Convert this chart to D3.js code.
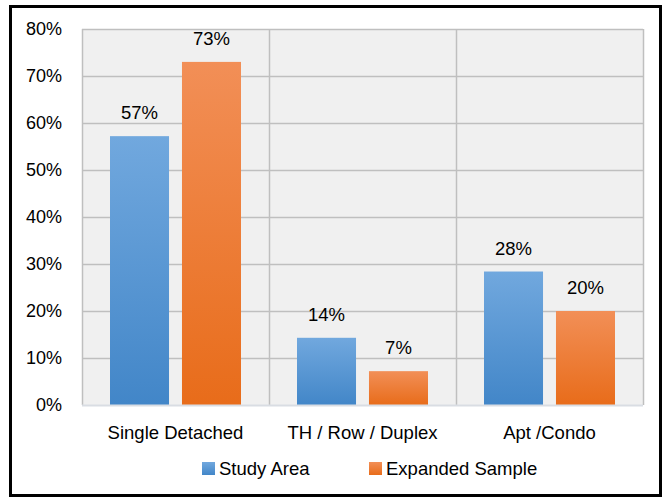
<!DOCTYPE html>
<html>
  <head>
    <style>
      body {
        margin: 0;
        background: #fff;
        font-family: "Liberation Sans", sans-serif;
      }
      svg text {
        font-family: "Liberation Sans", sans-serif;
        fill: #000;
      }
    </style>
    <script src="https://d3js.org/d3.v7.min.js"></script>
  </head>
  <body>
    <script>
      const width = 670;
      const height = 498;

      // chart data
      const categories = ["Single Detached", "TH / Row / Duplex", "Apt /Condo"];
      const seriesNames = ["Study Area", "Expanded Sample"];
      const studyArea = [57.2, 14.3, 28.4];
      const expandedSample = [73, 7.2, 20];
      const yTicks = [0, 10, 20, 30, 40, 50, 60, 70, 80];

      const plotLeft = 82;
      const plotRight = 643;
      const plotTop = 29;
      const plotBottom = 405;

      const svg = d3
        .select("body")
        .append("svg")
        .attr("width", width)
        .attr("height", height);

      // gradients for the bars
      const defs = svg.append("defs");
      const grads = [
        { id: "gBlue", c1: "#71a8de", c2: "#4286c8" },
        { id: "gOrange", c1: "#f28f57", c2: "#e86c1a" }
      ];
      grads.forEach((g) => {
        const lg = defs
          .append("linearGradient")
          .attr("id", g.id)
          .attr("x1", 0)
          .attr("y1", 0)
          .attr("x2", 0)
          .attr("y2", 1);
        lg.append("stop").attr("offset", "0%").attr("stop-color", g.c1);
        lg.append("stop").attr("offset", "100%").attr("stop-color", g.c2);
      });

      // outer frame
      svg
        .append("rect")
        .attr("x", 10.5)
        .attr("y", 6.5)
        .attr("width", 650)
        .attr("height", 489)
        .attr("fill", "#fff")
        .attr("stroke", "#000")
        .attr("stroke-width", 3);

      const x0 = d3.scaleBand().domain(categories).range([plotLeft, plotRight]);
      const x1 = d3
        .scaleBand()
        .domain(seriesNames)
        .range([28, x0.bandwidth() - 28])
        .paddingInner(0.18);
      const y = d3.scaleLinear().domain([0, 80]).range([plotBottom, plotTop]);

      // plot background
      svg
        .append("rect")
        .attr("x", plotLeft)
        .attr("y", plotTop)
        .attr("width", plotRight - plotLeft)
        .attr("height", plotBottom - plotTop)
        .attr("fill", "#f0f0f0");

      // horizontal grid
      svg
        .append("g")
        .selectAll("line")
        .data(yTicks.filter((d) => d > 0))
        .enter()
        .append("line")
        .attr("x1", plotLeft)
        .attr("x2", plotRight)
        .attr("y1", (d) => Math.round(y(d)) + 0.5)
        .attr("y2", (d) => Math.round(y(d)) + 0.5)
        .attr("stroke", "#bfbfbf")
        .attr("stroke-width", 1.5);

      // vertical dividers
      const dividers = categories.map((c) => x0(c)).concat([plotRight]);
      svg
        .append("g")
        .selectAll("line")
        .data(dividers)
        .enter()
        .append("line")
        .attr("x1", (d) => Math.round(d) + 0.5)
        .attr("x2", (d) => Math.round(d) + 0.5)
        .attr("y1", plotTop)
        .attr("y2", plotBottom)
        .attr("stroke", "#bfbfbf")
        .attr("stroke-width", 1.5);

      // bars
      const rows = categories.map((c, i) => ({
        cat: c,
        vals: [
          { s: seriesNames[0], v: studyArea[i], fill: "url(#gBlue)" },
          { s: seriesNames[1], v: expandedSample[i], fill: "url(#gOrange)" }
        ]
      }));

      const groups = svg
        .append("g")
        .selectAll("g")
        .data(rows)
        .enter()
        .append("g")
        .attr("transform", (d) => "translate(" + x0(d.cat) + ",0)");

      groups
        .selectAll("rect")
        .data((d) => d.vals)
        .enter()
        .append("rect")
        .attr("x", (d) => x1(d.s))
        .attr("y", (d) => y(d.v))
        .attr("width", x1.bandwidth())
        .attr("height", (d) => plotBottom - y(d.v))
        .attr("fill", (d) => d.fill);

      groups
        .selectAll("text")
        .data((d) => d.vals)
        .enter()
        .append("text")
        .attr("x", (d) => x1(d.s) + x1.bandwidth() / 2)
        .attr("y", (d) => y(d.v) - 17)
        .attr("text-anchor", "middle")
        .style("font-size", "18.5px")
        .text((d) => Math.round(d.v) + "%");

      // baseline
      svg
        .append("line")
        .attr("x1", plotLeft)
        .attr("x2", plotRight)
        .attr("y1", plotBottom + 0.5)
        .attr("y2", plotBottom + 0.5)
        .attr("stroke", "#d9dde3")
        .attr("stroke-width", 2);

      // y axis labels
      svg
        .append("g")
        .selectAll("text")
        .data(yTicks)
        .enter()
        .append("text")
        .attr("x", 62)
        .attr("y", (d) => y(d) + 6)
        .attr("text-anchor", "end")
        .style("font-size", "18px")
        .text((d) => d + "%");

      // category labels
      svg
        .append("g")
        .selectAll("text")
        .data(categories)
        .enter()
        .append("text")
        .attr("x", (d) => x0(d) + x0.bandwidth() / 2)
        .attr("y", 439)
        .attr("text-anchor", "middle")
        .style("font-size", "18.5px")
        .text((d) => d);

      // legend
      const legendX = [202, 369];
      const legendFill = ["url(#gBlue)", "url(#gOrange)"];
      const legend = svg
        .append("g")
        .selectAll("g")
        .data(seriesNames)
        .enter()
        .append("g")
        .attr("transform", (d, i) => "translate(" + legendX[i] + ",462)");
      legend
        .append("rect")
        .attr("width", 13)
        .attr("height", 13)
        .attr("fill", (d, i) => legendFill[i]);
      legend
        .append("text")
        .attr("x", 17)
        .attr("y", 12.5)
        .style("font-size", "18.5px")
        .text((d) => d);
    </script>
  </body>
</html>
